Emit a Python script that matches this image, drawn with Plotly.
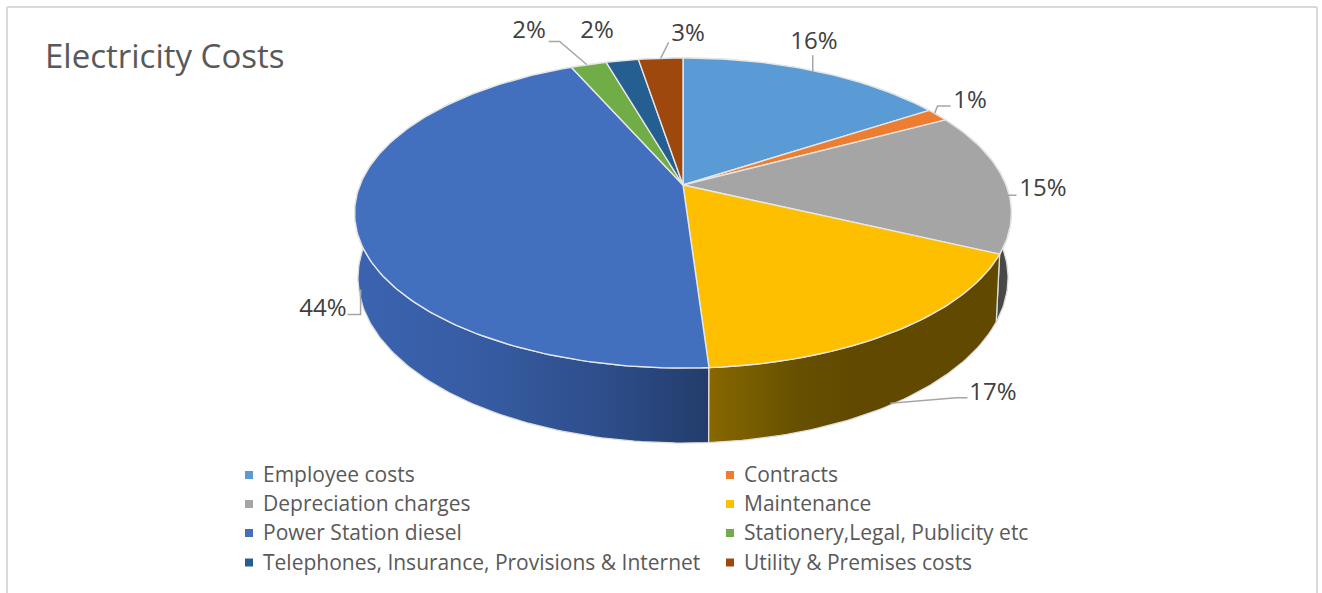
import math
import plotly.graph_objects as go

# Cost shares in percent
categories = [
    "Employee costs", "Contracts", "Depreciation charges", "Maintenance",
    "Power Station diesel", "Stationery,Legal, Publicity etc",
    "Telephones, Insurance, Provisions & Internet", "Utility & Premises costs",
]
shares = [15.8, 1.4, 14.8, 16.95, 44.45, 2.1, 1.9, 2.6]
top_colors = ["#5b9bd5", "#ed7d31", "#a5a5a5", "#fdbf00", "#4270bf", "#70ad47", "#255e91", "#9e480e"]
wall_scales = [
    [[0, "#3a6186"], [1, "#3a6186"]],
    [[0, "#8e4b1d"], [1, "#8e4b1d"]],
    [[0, "#3b3b3b"], [1, "#4a4a4a"]],
    [[0, "#876800"], [0.3, "#675000"], [0.5, "#614900"], [1, "#614900"]],
    [[0, "#3b63b0"], [0.35, "#375ca3"], [0.7, "#2e4e8b"], [1, "#233c6b"]],
    [[0, "#43682b"], [1, "#43682b"]],
    [[0, "#173957"], [1, "#173957"]],
    [[0, "#5f2c08"], [1, "#5f2c08"]],
]

# Perspective camera of the disc, in screen pixels
CX, CY = 683.0, 185.0
RX, RY = 323.0, 150.0
TILT = 0.1807
THICK, THICK_W = 64.0, 0.010

FONT = "Open Sans"


def project(theta, level=0):
    """Screen position of a rim point; theta runs clockwise from 12 o'clock, level 1 is the base."""
    u, v = math.sin(theta), -math.cos(theta)
    w = 1 - TILT * v + THICK_W * level
    return CX + RX * u / w, CY + (RY * v + THICK * level) / w


def arc(a0, a1, level=0):
    n = max(2, int(abs(a1 - a0) / math.radians(1)) + 2)
    return [project(a0 + (a1 - a0) * i / (n - 1), level) for i in range(n)]


total = sum(shares)
edges = [0.0]
for s in shares:
    edges.append(edges[-1] + s / total * 2 * math.pi)

fig = go.Figure()

# Side walls, furthest first
order = sorted(range(len(shares)), key=lambda i: math.cos((edges[i] + edges[i + 1]) / 2), reverse=True)
for i in order:
    pts = arc(edges[i], edges[i + 1], 0) + arc(edges[i + 1], edges[i], 1)
    fig.add_trace(go.Scatter(
        x=[p[0] for p in pts] + [pts[0][0]],
        y=[p[1] for p in pts] + [pts[0][1]],
        mode="lines", fill="toself",
        fillgradient=dict(type="horizontal", colorscale=wall_scales[i]),
        line=dict(color="#dedede", width=1.3),
        hoverinfo="skip", showlegend=False,
    ))

# Top faces
for i, name in enumerate(categories):
    pts = [(CX, CY)] + arc(edges[i], edges[i + 1], 0) + [(CX, CY)]
    fig.add_trace(go.Scatter(
        x=[p[0] for p in pts], y=[p[1] for p in pts],
        mode="lines", fill="toself", fillcolor=top_colors[i],
        line=dict(color="#e6e6e6", width=1.4),
        name=name, hoverinfo="name", showlegend=False,
    ))

# Leader lines: offsets from the rim point at each slice's middle, and which rim it sits on
leaders = {
    0: (0, [(-3, 1), (-3, -16)]),
    1: (0, [(-3, -2), (0, -9), (13, -9)]),
    2: (0, [(0, 14), (12, 14)]),
    3: (1, [(-4, 0), (62, -5.5), (73, -5.5)]),
    4: (1, [(2, 1.5), (2, 26.5), (-11, 26.5)]),
    5: (0, [(-2, 0), (-29, -23), (-40, -23)]),
    7: (0, [(0, 0), (8, -16)]),
}
for i, (level, offsets) in leaders.items():
    ax, ay = project((edges[i] + edges[i + 1]) / 2, level)
    fig.add_trace(go.Scatter(
        x=[ax + d[0] for d in offsets], y=[ay + d[1] for d in offsets],
        mode="lines", line=dict(color="#a6a6a6", width=1.5),
        hoverinfo="skip", showlegend=False,
    ))

# Percentage labels
label_x = [814, 970, 1043, 993, 323, 529, 597, 688]
label_y = [43, 102, 190, 394, 310, 32, 32, 35]
fig.add_trace(go.Scatter(
    x=label_x, y=label_y, mode="text",
    text=[f"{s / total * 100:.0f}%" for s in shares],
    textposition="middle center",
    textfont=dict(family=FONT, size=24, color="#404040"),
    hoverinfo="skip", showlegend=False,
))

# Two-column key, read across the rows
key_x = [249, 730]
key_y = [475, 504, 533, 562.5]
mark_x = [key_x[i % 2] for i in range(len(categories))]
mark_y = [key_y[i // 2] for i in range(len(categories))]
fig.add_trace(go.Scatter(
    x=mark_x, y=mark_y, mode="markers",
    marker=dict(symbol="square", size=8, color=top_colors, line=dict(width=0)),
    hoverinfo="skip", showlegend=False,
))
fig.add_trace(go.Scatter(
    x=[x + 14 for x in mark_x], y=[y + 2 for y in mark_y], mode="text", text=categories,
    textposition="middle right",
    textfont=dict(family=FONT, size=21, color="#595959"),
    hoverinfo="skip", showlegend=False,
))

# Open-bottomed frame
frame = dict(type="line", xref="x", yref="y", line=dict(color="#d9d9d9", width=2), layer="below")
fig.update_layout(
    width=1322, height=593, autosize=False,
    margin=dict(l=0, r=0, t=0, b=0),
    paper_bgcolor="white", plot_bgcolor="white",
    title=dict(text="Electricity Costs", x=45 / 1322, xanchor="left", xref="paper",
               y=1 - 56 / 593, yanchor="middle", yref="paper",
               font=dict(family=FONT, size=33, color="#595959")),
    xaxis=dict(range=[0, 1322], visible=False, fixedrange=True),
    yaxis=dict(range=[593, 0], visible=False, fixedrange=True),
    shapes=[
        dict(frame, x0=7, x1=7, y0=7, y1=593),
        dict(frame, x0=7, x1=1317, y0=7, y1=7),
        dict(frame, x0=1317, x1=1317, y0=7, y1=593),
    ],
    showlegend=False,
)

fig.write_html("out.html", config=dict(displayModeBar=False))
